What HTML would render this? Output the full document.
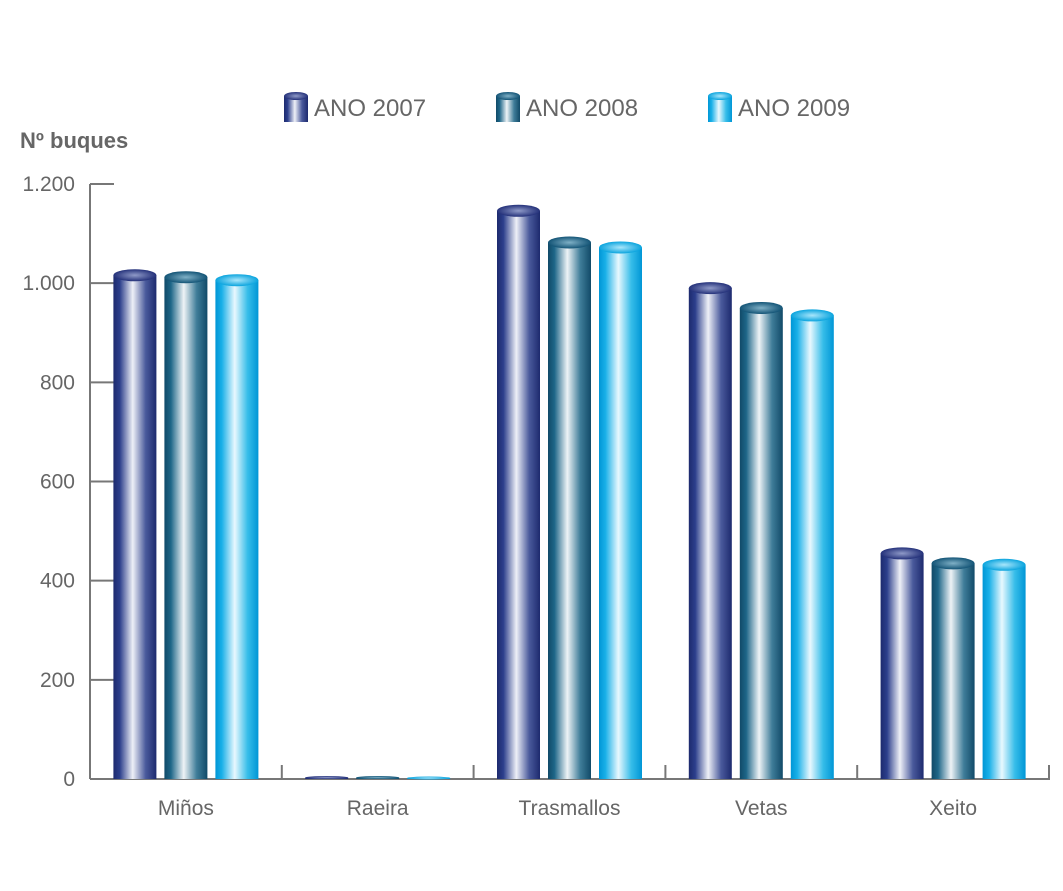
<!DOCTYPE html>
<html><head><meta charset="utf-8"><style>
body{margin:0;background:#fff;font-family:"Liberation Sans",sans-serif}
svg text{font-family:"Liberation Sans",sans-serif}
</style></head><body>
<svg id="c" width="1063" height="886">
<defs>
<linearGradient id="g0" x1="0" x2="1"><stop offset="0" stop-color="#1d2a6e"/><stop offset="0.15" stop-color="#2c3f8c"/><stop offset="0.45" stop-color="#eef0f7"/><stop offset="0.75" stop-color="#4a5a9c"/><stop offset="1" stop-color="#1d2a6e"/></linearGradient>
<linearGradient id="g1" x1="0" x2="1"><stop offset="0" stop-color="#114a68"/><stop offset="0.15" stop-color="#1e6688"/><stop offset="0.45" stop-color="#eef3f6"/><stop offset="0.75" stop-color="#3f7d99"/><stop offset="1" stop-color="#114a68"/></linearGradient>
<linearGradient id="g2" x1="0" x2="1"><stop offset="0" stop-color="#0096d6"/><stop offset="0.15" stop-color="#19b0e8"/><stop offset="0.45" stop-color="#e8f8fe"/><stop offset="0.75" stop-color="#36bde9"/><stop offset="1" stop-color="#0096d6"/></linearGradient>
<radialGradient id="t0"><stop offset="0" stop-color="#8f9ac8"/><stop offset="1" stop-color="#24317a"/></radialGradient>
<radialGradient id="t1"><stop offset="0" stop-color="#7fb0c6"/><stop offset="1" stop-color="#135476"/></radialGradient>
<radialGradient id="t2"><stop offset="0" stop-color="#a8e6fb"/><stop offset="1" stop-color="#0aa4de"/></radialGradient>
</defs>
</svg>
<script>
const categories=["Miños","Raeira","Trasmallos","Vetas","Xeito"];
const series=["ANO 2007","ANO 2008","ANO 2009"];
const v2007=[1016,3,1146,990,455];
const v2008=[1012,3,1082,950,435];
const v2009=[1006,2,1072,935,432];
const yTicks=[0,200,400,600,800,1000,1200];
const yLabels=["0","200","400","600","800","1.000","1.200"];
const vals=[v2007,v2008,v2009];
const NS="http://www.w3.org/2000/svg",svg=document.getElementById('c');
function mk(t,a,p){const e=document.createElementNS(NS,t);for(const k in a)e.setAttribute(k,a[k]);(p||svg).appendChild(e);return e;}
const y0=779,yTop=184,x0=90,catW=191.8;
const y=v=>y0-(v/1200)*(y0-yTop);
const xc=i=>x0+catW*(i+0.5);
let e=mk('line',{x1:x0,y1:yTop,x2:x0,y2:y0,stroke:'#777','stroke-width':2});

e=mk('line',{x1:x0,y1:y0,x2:1050,y2:y0,stroke:'#777','stroke-width':2});

yTicks.forEach((t,i)=>{
 let l=mk('line',{x1:x0,y1:y(t),x2:x0+24,y2:y(t),stroke:'#777','stroke-width':2});
 
 let tx=mk('text',{x:75,y:y(t)+7,'text-anchor':'end','font-size':21,fill:'#666'});tx.textContent=yLabels[i];
 
});
for(let i=1;i<=categories.length;i++){
 let l=mk('line',{x1:x0+catW*i,y1:y0,x2:x0+catW*i,y2:y0-14,stroke:'#777','stroke-width':2});
 
}
let yt=mk('text',{x:20,y:148,'font-size':22,'font-weight':'bold',fill:'#666'});yt.textContent='Nº buques';

const bw=43,gap=8;
categories.forEach((c,i)=>{
 let t=mk('text',{x:xc(i),y:815,'text-anchor':'middle','font-size':21,fill:'#666'});t.textContent=c;
 
 vals.forEach((arr,s)=>{
  const bx=xc(i)-(bw*1.5+gap)+s*(bw+gap),top=y(arr[i]);
  const g=mk('g',{});
  
  
  mk('rect',{x:bx,y:top,width:bw,height:y0-top,fill:'url(#g'+s+')'},g);
  mk('ellipse',{cx:bx+bw/2,cy:top,rx:bw/2,ry:Math.min(6,Math.max(1.5,(y0-top))),fill:'url(#t'+s+')'},g);
 });
});
const lx=[284,496,708];
series.forEach((s,i)=>{
 const g=mk('g',{});
 
 mk('rect',{x:lx[i],y:96,width:24,height:26,fill:'url(#g'+i+')'},g);
 mk('ellipse',{cx:lx[i]+12,cy:96,rx:12,ry:4,fill:'url(#t'+i+')'},g);
 const t=mk('text',{x:lx[i]+30,y:116,'font-size':24,fill:'#666'},g);t.textContent=s;
});
</script>
</body></html>
